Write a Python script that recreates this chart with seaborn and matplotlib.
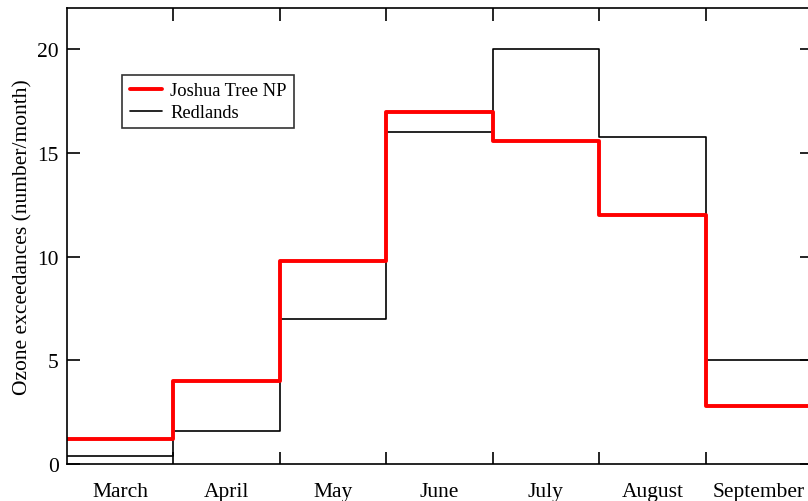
import numpy as np
import pandas as pd
import matplotlib
matplotlib.use('Agg')
import matplotlib.pyplot as plt
import seaborn as sns

months = ['March', 'April', 'May', 'June', 'July', 'August', 'September']
joshua = [1.2, 4.0, 9.8, 17.0, 15.6, 12.0, 2.8]
redlands = [0.4, 1.6, 7.0, 16.0, 20.0, 15.8, 5.0]

sns.set_style('ticks')
plt.rcParams['font.family'] = ['Liberation Serif', 'DejaVu Serif']
plt.rcParams['text.color'] = 'black'
plt.rcParams['axes.labelcolor'] = 'black'
plt.rcParams['xtick.color'] = 'black'
plt.rcParams['ytick.color'] = 'black'

# step edges: each month is one bin, last value repeated to close the bin
edges = np.arange(len(months) + 1)
df = pd.DataFrame({
    'edge': np.concatenate([edges, edges]),
    'value': joshua + [joshua[-1]] + redlands + [redlands[-1]],
    'site': ['Joshua Tree NP'] * (len(months) + 1) + ['Redlands'] * (len(months) + 1),
})

fig = plt.figure(figsize=(8.08, 5.02), dpi=100)
ax = fig.add_axes([67 / 808, (502 - 465) / 502, (812 - 67) / 808, (465 - 9) / 502])

sns.lineplot(data=df[df.site == 'Redlands'], x='edge', y='value', color='black',
             linewidth=1.2, drawstyle='steps-post', label='Redlands', ax=ax)
sns.lineplot(data=df[df.site == 'Joshua Tree NP'], x='edge', y='value', color='red',
             linewidth=2.8, drawstyle='steps-post', label='Joshua Tree NP', ax=ax)

ax.set_xlim(0, len(months))
ax.set_ylim(0, 22)
ax.set_xticks(edges[1:-1])
ax.set_xticklabels([])
ax.set_xticks(edges[:-1] + 0.5, minor=True)
ax.set_xticklabels(months, minor=True, fontsize=15.5)
ax.tick_params(axis='x', which='minor', length=0, pad=13)
ax.tick_params(axis='x', which='major', direction='in', length=9, width=1.2, top=True)
ax.set_yticks([0, 5, 10, 15, 20])
ax.tick_params(axis='y', direction='in', length=9, width=1.2, right=True, labelsize=15.5, pad=6)
ax.set_xlabel('')
ax.set_ylabel('Ozone exceedances (number/month)', fontsize=15.5, labelpad=3)
for s in ax.spines.values():
    s.set_linewidth(1.2)
    s.set_color('black')

h, l = ax.get_legend_handles_labels()
leg = ax.legend(h[::-1], l[::-1], loc='upper left', bbox_to_anchor=(0.074, 0.853),
                borderaxespad=0, fontsize=13.3, frameon=True, fancybox=False,
                handlelength=1.75, handletextpad=0.45, borderpad=0.4,
                labelspacing=0.25)
leg.get_frame().set_edgecolor('black')
leg.get_frame().set_linewidth(1.2)

fig.savefig('out.png', dpi=100)
